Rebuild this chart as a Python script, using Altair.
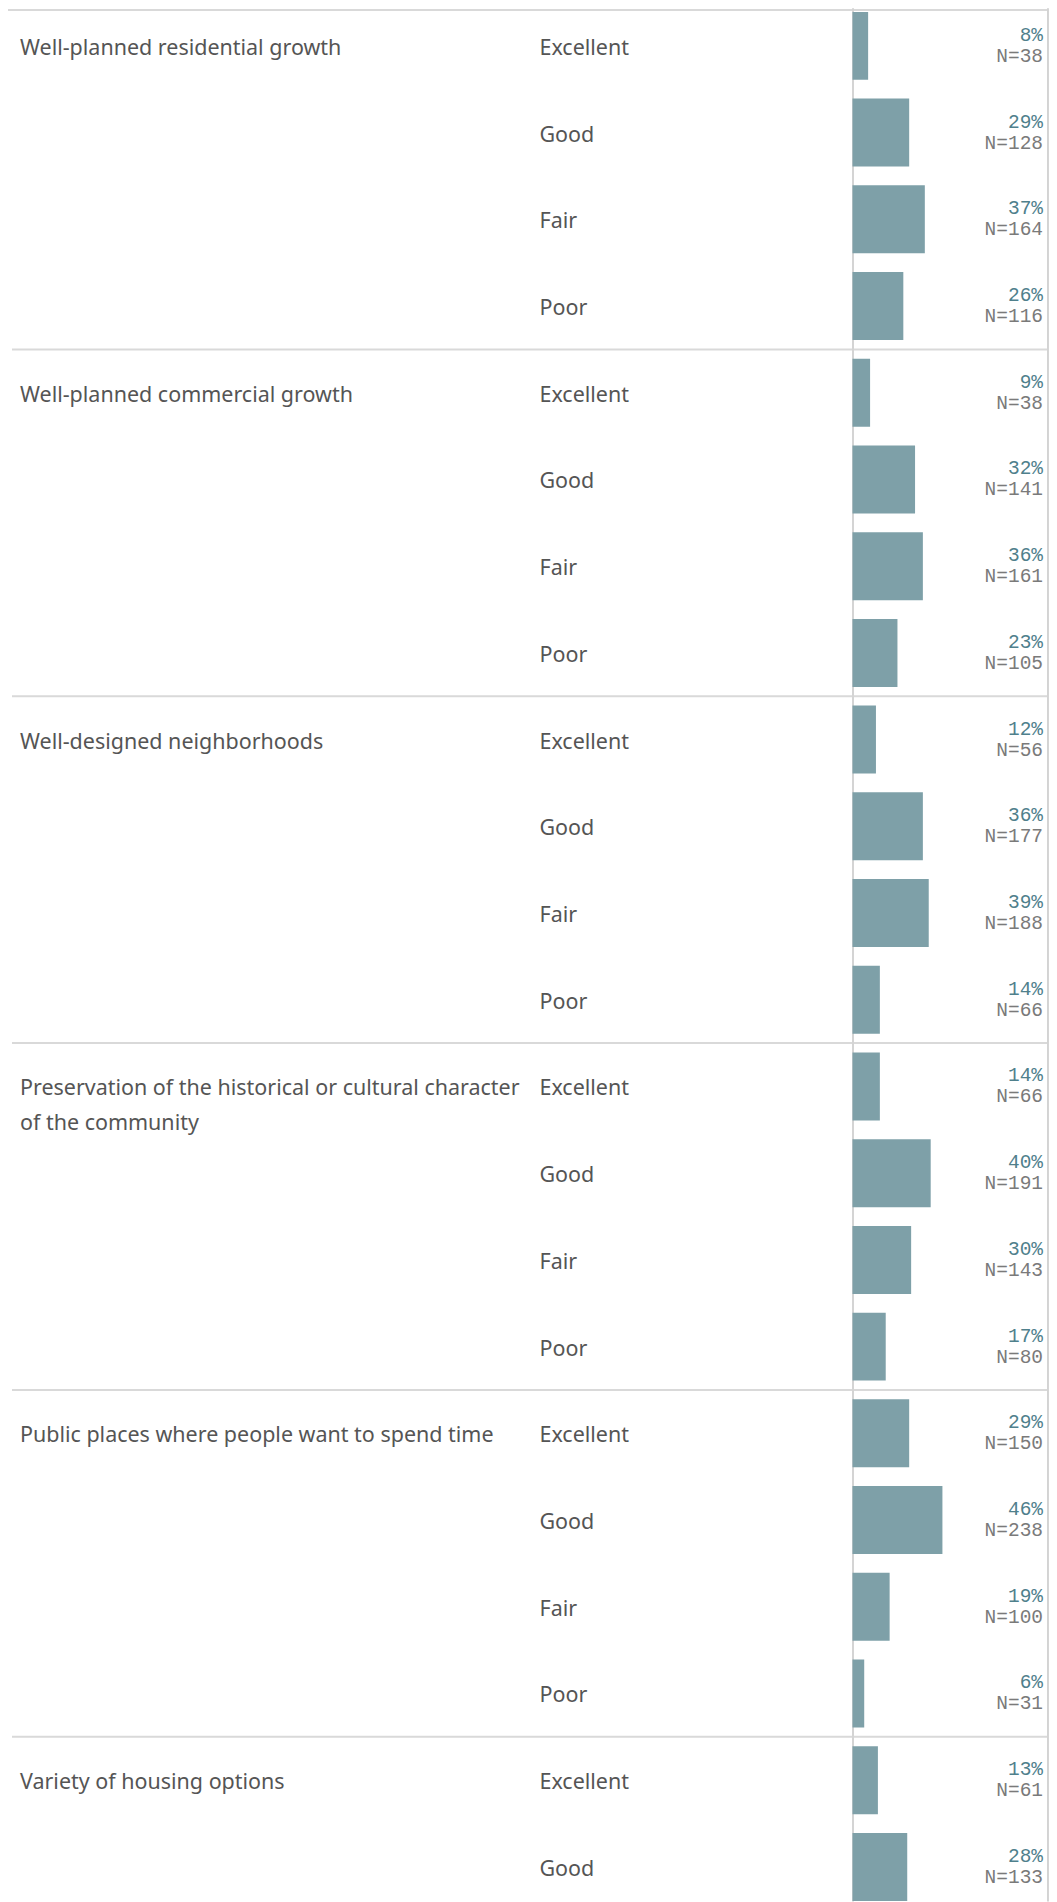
import altair as alt
import pandas as pd

# ---- data ----
sections = [
    "Well-planned residential growth",
    "Well-planned commercial growth",
    "Well-designed neighborhoods",
    "Preservation of the historical or cultural character\nof the community",
    "Public places where people want to spend time",
    "Variety of housing options",
]
ratings = ["Excellent", "Good", "Fair", "Poor"]
pct_values = [
    [8, 29, 37, 26],
    [9, 32, 36, 23],
    [12, 36, 39, 14],
    [14, 40, 30, 17],
    [29, 46, 19, 6],
    [13, 28],
]
n_values = [
    [38, 128, 164, 116],
    [38, 141, 161, 105],
    [56, 177, 188, 66],
    [66, 191, 143, 80],
    [150, 238, 100, 31],
    [61, 133],
]

records = []
row = 0
for s, pcts, ns in zip(sections, pct_values, n_values):
    for i, (p, n) in enumerate(zip(pcts, ns)):
        records.append({
            "section": s,
            "rating": ratings[i],
            "share": p / 100.0,
            "pct_label": f"{p}%",
            "n_label": f"N={n}",
            "row": row,
            "first": i == 0,
        })
        row += 1
df = pd.DataFrame(records)

# ---- styling / layout ----
W, H = 1042, 1894
ROW_H = 86.8
N_ROWS = 22
TEXT_FONT = "Noto Sans"
TEXT_SIZE = 21.5
MONO_FONT = "Liberation Mono"

xscale = alt.Scale(domain=[0, 1], range=[845.3, 1041])
yscale = alt.Scale(domain=[0, N_ROWS], range=[-6.4, -6.4 + N_ROWS * ROW_H])

base = alt.Chart(df).transform_calculate(
    y0="datum.row + 0.108",
    y1="datum.row + 0.892",
    yc="datum.row + 0.5",
)

bars = base.mark_rect(color="#7ea0a8").encode(
    x=alt.X("share:Q", scale=xscale, axis=None),
    x2=alt.datum(0),
    y=alt.Y("y0:Q", scale=yscale, axis=None),
    y2="y1:Q",
)

rating_text = base.mark_text(
    align="left", baseline="middle", font=TEXT_FONT, fontSize=TEXT_SIZE,
    color="#555555", dy=3,
).encode(
    x=alt.value(532),
    y=alt.Y("yc:Q", scale=yscale, axis=None),
    text="rating:N",
)

pct_text = base.mark_text(
    align="right", baseline="middle", font=MONO_FONT, fontSize=19.5,
    color="#4f808c", dy=-11,
).encode(
    x=alt.value(1036),
    y=alt.Y("yc:Q", scale=yscale, axis=None),
    text="pct_label:N",
)

n_text = base.mark_text(
    align="right", baseline="middle", font=MONO_FONT, fontSize=19.5,
    color="#7a7a7a", dy=10,
).encode(
    x=alt.value(1036),
    y=alt.Y("yc:Q", scale=yscale, axis=None),
    text="n_label:N",
)

title_text = base.transform_filter("datum.first").mark_text(
    align="left", baseline="top", font=TEXT_FONT, fontSize=TEXT_SIZE,
    color="#555555", dy=-8, lineBreak="\n", lineHeight=35,
).encode(
    x=alt.value(12),
    y=alt.Y("yc:Q", scale=yscale, axis=None),
    text="section:N",
)

separators = base.transform_filter("datum.first && datum.row > 0").mark_rule(
    color="#d9d9d9", strokeWidth=2
).encode(
    x=alt.value(4),
    x2=alt.value(1041),
    y=alt.Y("row:Q", scale=yscale, axis=None),
)

top_line = alt.Chart(df).mark_rule(color="#d9d9d9", strokeWidth=2).encode(
    x=alt.value(0), x2=alt.value(1041), y=alt.value(1)
)

axis_line = alt.Chart(df).mark_rule(color="#d4d4d4", strokeWidth=1).encode(
    x=alt.value(845.8), y=alt.value(0), y2=alt.value(H),
)

right_border = alt.Chart(df).mark_rule(color="#d4d4d4", strokeWidth=1).encode(
    x=alt.value(1041), y=alt.value(0), y2=alt.value(H)
)

chart = alt.layer(
    separators, top_line, axis_line, right_border,
    bars, title_text, rating_text, pct_text, n_text,
).properties(
    width=W, height=H, padding=0,
    autosize=alt.AutoSizeParams(type="none"),
).configure_view(stroke=None)

chart.save("out.html", embed_options={"renderer": "svg", "actions": False})
